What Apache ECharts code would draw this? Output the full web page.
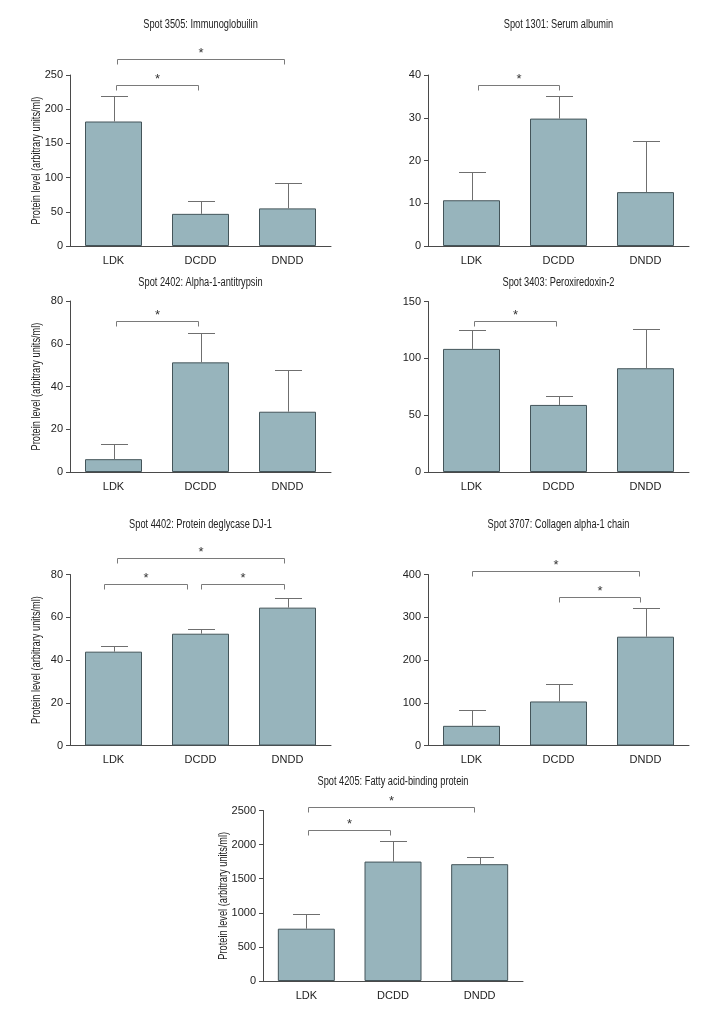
<!DOCTYPE html>
<html><head><meta charset="utf-8">
<script src="https://cdn.jsdelivr.net/npm/echarts@6/dist/echarts.min.js"></script>
<style>html,body{margin:0;padding:0;background:#fff}#c{width:720px;height:1020px}</style>
</head><body><div id="c"></div>
<script>
const categories = ['LDK', 'DCDD', 'DNDD'];
const titles = [
  'Spot 3505: Immunoglobuilin',
  'Spot 1301: Serum albumin',
  'Spot 2402: Alpha-1-antitrypsin',
  'Spot 3403: Peroxiredoxin-2',
  'Spot 4402: Protein deglycase DJ-1',
  'Spot 3707: Collagen alpha-1 chain',
  'Spot 4205: Fatty acid-binding protein'
];
const yName = 'Protein level (arbitrary units/ml)';

// means and upper error (SD) for each spot
const mean3505 = [182, 47, 55];      const sd3505 = [37, 19, 37];
const mean1301 = [10.7, 29.8, 12.6]; const sd1301 = [6.5, 5.4, 11.9];
const mean2402 = [6, 51.3, 28.2];    const sd2402 = [7.1, 13.9, 19.7];
const mean3403 = [108.3, 59, 91.3];  const sd3403 = [16.7, 7.7, 34.9];
const mean4402 = [43.9, 52.3, 64.5]; const sd4402 = [2.8, 2.3, 4.7];
const mean3707 = [46, 103, 254.5];   const sd3707 = [36.7, 41.4, 67.9];
const mean4205 = [767, 1751, 1713];  const sd4205 = [212, 299, 103];

// y axis max and interval
const yMax = [250, 40, 80, 150, 80, 400, 2500];
const yStep = [50, 10, 20, 50, 20, 100, 500];

// significance brackets: [from category pos, to category pos, height in data units]
const sig3505 = [[0.03, 0.97, 235], [0.04, 1.96, 273]];
const sig1301 = [[0.07, 1.0, 37.6]];
const sig2402 = [[0.03, 0.97, 70.6]];
const sig3403 = [[0.025, 0.97, 133]];
const sig4402 = [[-0.11, 0.85, 75.6], [1.01, 1.96, 75.6], [0.04, 1.96, 87.5]];
const sig3707 = [[0.0, 1.93, 409], [1.0, 1.94, 348]];
const sig4205 = [[0.02, 0.96, 2217], [0.02, 1.94, 2544]];

const means = [mean3505, mean1301, mean2402, mean3403, mean4402, mean3707, mean4205];
const sds = [sd3505, sd1301, sd2402, sd3403, sd4402, sd3707, sd4205];
const sigs = [sig3505, sig1301, sig2402, sig3403, sig4402, sig3707, sig4205];

// layout (pixels)
const layout = [
  {left: 70, top: 75, w: 261, h: 171, cy: 25, name: 33},
  {left: 428, top: 75, w: 261, h: 171, cy: 25, name: 0},
  {left: 70, top: 301, w: 261, h: 171, cy: 283, name: 33},
  {left: 428, top: 301.5, w: 261, h: 170.5, cy: 283, name: 0},
  {left: 70, top: 574.5, w: 261, h: 171, cy: 525, name: 33},
  {left: 428, top: 574.5, w: 261, h: 171, cy: 525, name: 0},
  {left: 263, top: 810.5, w: 260, h: 170.5, cy: 782, name: 39}
];

const FONT = "'Liberation Sans', Arial, sans-serif";
const AXIS = '#4a4a4a';
const TXT = '#222';
const ERR = '#6f6f6f';
const BR = '#7a7a7a';
const SX = 0.77;

function errRender(params, api) {
  const x = api.value(0), m = api.value(1), s = api.value(2);
  const p0 = api.coord([x, m]);
  const p1 = api.coord([x, m + s]);
  const half = 13.5;
  const xx = Math.round(p0[0]) + 0.5, y1 = Math.round(p1[1]) + 0.5;
  return {type: 'group', children: [
    {type: 'line', shape: {x1: xx, y1: p0[1], x2: xx, y2: y1}, style: {stroke: ERR, lineWidth: 1}},
    {type: 'line', shape: {x1: xx - half, y1: y1, x2: xx + half, y2: y1}, style: {stroke: ERR, lineWidth: 1}}
  ]};
}

function brRender(params, api) {
  const a = api.coord([api.value(0), api.value(2)]);
  const b = api.coord([api.value(1), api.value(2)]);
  const y = Math.round(a[1]) + 0.5;
  const x1 = Math.round(a[0]) + 0.5, x2 = Math.round(b[0]) + 0.5;
  return {type: 'group', children: [
    {type: 'polyline', shape: {points: [[x1, y + 5], [x1, y], [x2, y], [x2, y + 5]]},
      style: {stroke: BR, fill: null, lineWidth: 1}},
    {type: 'text', x: (x1 + x2) / 2, y: y - 6,
      style: {text: '*', align: 'center', verticalAlign: 'middle', fontSize: 13, fontFamily: FONT, fill: '#333'}}
  ]};
}

const grid = [], xAxis = [], yAxis = [], series = [], graphic = [];
layout.forEach((L, i) => {
  grid.push({left: L.left, top: L.top, width: L.w, height: L.h, containLabel: false});
  xAxis.push({
    type: 'category', gridIndex: i, data: categories, boundaryGap: true,
    axisLine: {show: true, onZero: false, lineStyle: {color: AXIS, width: 1}},
    axisTick: {show: false},
    axisLabel: {color: TXT, fontSize: 11, fontFamily: FONT, margin: 9},
    splitLine: {show: false}
  });
  xAxis.push({type: 'value', gridIndex: i, min: -0.5, max: 2.5, show: false});
  yAxis.push({
    type: 'value', gridIndex: i, min: 0, max: yMax[i], interval: yStep[i],
    axisLine: {show: true, onZero: false, lineStyle: {color: AXIS, width: 1}},
    axisTick: {show: true, inside: false, length: 4, lineStyle: {color: AXIS}},
    axisLabel: {color: TXT, fontSize: 11, fontFamily: FONT, margin: 7, formatter: v => String(v)},
    splitLine: {show: false}
  });
  series.push({
    type: 'bar', xAxisIndex: 2 * i, yAxisIndex: i, data: means[i], barWidth: 57,
    itemStyle: {color: '#97b4bc', borderColor: '#44555a', borderWidth: 1},
    silent: true, z: 2
  });
  series.push({
    type: 'custom', xAxisIndex: 2 * i, yAxisIndex: i, renderItem: errRender, clip: false,
    data: means[i].map((m, k) => [k, m, sds[i][k]]), z: 3, silent: true
  });
  series.push({
    type: 'custom', xAxisIndex: 2 * i + 1, yAxisIndex: i, renderItem: brRender, clip: false,
    data: sigs[i], z: 3, silent: true
  });
  graphic.push({
    type: 'text', x: L.left + L.w / 2, y: L.cy, scaleX: SX,
    style: {text: titles[i], align: 'center', verticalAlign: 'middle', fontSize: 12, fontFamily: FONT, fill: TXT}
  });
  if (L.name) {
    graphic.push({
      type: 'text', x: L.left - L.name, y: L.top + L.h / 2, rotation: Math.PI / 2, scaleX: SX,
      style: {text: yName, align: 'center', verticalAlign: 'middle', fontSize: 12, fontFamily: FONT, fill: TXT}
    });
  }
});

const chart = echarts.init(document.getElementById('c'), null, {renderer: 'canvas'});
chart.setOption({animation: false, backgroundColor: '#fff', grid, xAxis, yAxis, series, graphic});
</script>
</body></html>
